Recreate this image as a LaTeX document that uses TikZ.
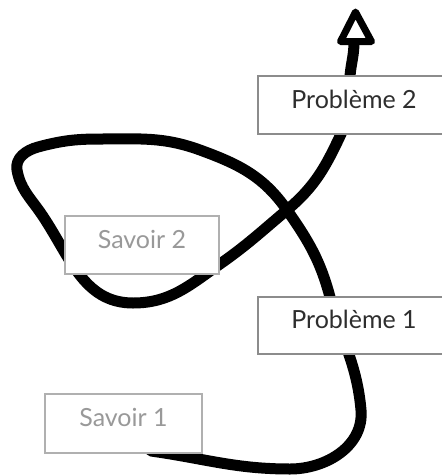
\documentclass[tikz,border=0pt]{standalone}
\usepackage{fontspec}
\setmainfont{Lato}
\usetikzlibrary{calc}
\pgfdeclarelayer{canvas}
\pgfdeclarelayer{background}
\pgfsetlayers{canvas,background,main}
\definecolor{probtext}{HTML}{2E2E2E}
\definecolor{savtext}{HTML}{999999}
\definecolor{probborder}{HTML}{8C8C8C}
\definecolor{savborder}{HTML}{B0B0B0}
\begin{document}
\begin{tikzpicture}[x=1pt,y=1pt,
  box/.style={draw, line width=2pt, fill=white, inner sep=0pt,
    text height=21pt, text depth=15pt, font=\fontsize{25}{25}\selectfont},
  probbox/.style={box, draw=probborder, text=probtext},
  savbox/.style={box, draw=savborder, text=savtext},
  road/.style={line width=11pt, line cap=round, line join=round},
  arrowhead/.style={line width=7pt, line join=round, fill=white}]
\useasboundingbox (0,0) rectangle (442,-475);
\begin{pgfonlayer}{canvas}
\fill[white] (0,0) rectangle (442,-475);
\end{pgfonlayer}
\clip (0,0) rectangle (442,-475);

\node[probbox, minimum width=192pt, minimum height=58pt] (p2) at (354,-105) {Problème 2};
\node[savbox, minimum width=154pt, minimum height=58pt] (s2) at (142,-245) {Savoir 2};
\node[probbox, minimum width=192pt, minimum height=57pt] (p1) at (354,-325.5) {Problème 1};
\node[savbox, minimum width=157pt, minimum height=59pt] (s1) at (123.5,-423.5) {Savoir 1};

\coordinate (tip) at (354,-42);

\begin{pgfonlayer}{background}
\draw[road] ([shift={(-52,3)}]s1.south east)
  to[out=-8,in=180] (290,-469)
  to[out=0,in=-85] (361,-410)
  to[out=95,in=-75] (330,-297)
  to[out=105,in=-55] (287,-210)
  to[out=125,in=-20] (200,-150)
  to[out=160,in=0] (100,-139)
  to[out=180,in=15] (38,-147)
  to[out=195,in=100] (17,-170)
  to[out=-80,in=125] (40,-212)
  to[out=-55,in=180] (133,-303)
  to[out=0,in=-145] (220,-264)
  to[out=35,in=-140] (287,-210)
  to[out=40,in=-115] (341,-134)
  to[out=65,in=-95] (350,-76)
  to[out=85,in=-90] (tip);
\end{pgfonlayer}

\draw[arrowhead] ($(tip)+(1.5,30)$) -- ($(tip)+(-13.5,0.5)$) -- ($(tip)+(17.5,0.5)$) -- cycle;
\end{tikzpicture}
\end{document}
